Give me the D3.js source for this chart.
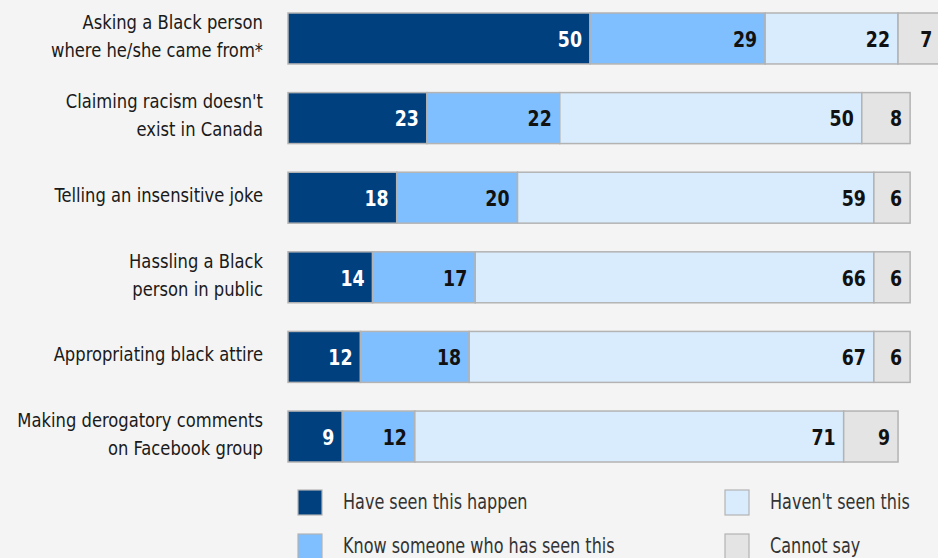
<!DOCTYPE html>
<html><head><meta charset="utf-8">
<script src="https://cdn.jsdelivr.net/npm/d3@7"></script>
<style>
html,body{margin:0;padding:0;background:#f4f4f4;}
svg{display:block;}
text{font-family:"DejaVu Sans Condensed","Liberation Sans Narrow","Roboto",sans-serif;}
</style></head><body>
<div id="chart"></div>
<script>
const categories = [
  ["Asking a Black person","where he/she came from*"],
  ["Claiming racism doesn't","exist in Canada"],
  ["Telling an insensitive joke"],
  ["Hassling a Black","person in public"],
  ["Appropriating black attire"],
  ["Making derogatory comments","on Facebook group"]
];
const seriesNames = ["Have seen this happen","Know someone who has seen this","Haven't seen this","Cannot say"];
const haveSeen   = [50,23,18,14,12,9];
const knowSomeone= [29,22,20,17,18,12];
const haventSeen = [22,50,59,66,67,71];
const cannotSay  = [7,8,6,6,6,9];
const colors = ["#00407f","#80bfff","#d9ecfd","#e4e4e4"];
const labelColors = ["#ffffff","#111111","#111111","#111111"];

const W=938,H=558;
const svg=d3.select("#chart").append("svg").attr("width",W).attr("height",H);
svg.append("rect").attr("width",W).attr("height",H).attr("fill","#f4f4f4");

const keys=categories.map((c,i)=>i);
const rows=keys.map(i=>({i, v:[haveSeen[i],knowSomeone[i],haventSeen[i],cannotSay[i]]}));
const stack=d3.stack().keys([0,1,2,3]).value((d,k)=>d.v[k]);
const stacked=stack(rows);

const x=d3.scaleLinear().domain([0,100]).range([288,892]);
const y=d3.scaleBand().domain(keys).range([13,462]).paddingInner(0.36).paddingOuter(0);

function place(sel,tx,ty,s){ return sel.attr("x",0).attr("y",0).attr("transform",`translate(${tx},${ty}) scale(${s},1)`); }

const g=svg.append("g");
stacked.forEach((layer,k)=>{
  const lg=g.append("g");
  lg.selectAll("rect").data(layer).enter().append("rect")
    .attr("x",d=>x(d[0])).attr("y",d=>y(d.data.i))
    .attr("width",d=>x(d[1])-x(d[0])).attr("height",y.bandwidth())
    .attr("fill",colors[k]).attr("stroke","#b3b3b3").attr("stroke-width",1.5);
  lg.selectAll("text").data(layer).enter().append("text")
    .attr("x",0).attr("y",0)
    .attr("transform",d=>`translate(${x(d[1])-8},${y(d.data.i)+y.bandwidth()/2+1}) scale(0.92,1)`)
    .attr("text-anchor","end").attr("dominant-baseline","central")
    .attr("font-size",21).attr("font-weight","bold").attr("fill",labelColors[k])
    .text(d=>d.data.v[k]);
});

// category labels
const cl=svg.append("g");
keys.forEach(i=>{
  const lines=categories[i];
  const cy=y(i)+y.bandwidth()/2-2.5;
  lines.forEach((t,j)=>{
    place(cl.append("text"),263,cy+(j-(lines.length-1)/2)*28,0.91)
      .attr("text-anchor","end").attr("dominant-baseline","central")
      .attr("font-size",20).attr("fill","#1a1a1a").text(t);
  });
});

// legend
const legPos=[[298,502],[298,546],[725,502],[725,546]];
const lgd=svg.append("g");
seriesNames.forEach((n,k)=>{
  const [lx,ly]=legPos[k];
  lgd.append("rect").attr("x",lx).attr("y",ly-12).attr("width",24).attr("height",25)
    .attr("fill",colors[k]).attr("stroke","#b3b3b3").attr("stroke-width",1.2);
  place(lgd.append("text"),lx+45,ly,0.85).attr("dominant-baseline","central")
    .attr("font-size",21).attr("fill","#333").text(n);
});
</script></body></html>
